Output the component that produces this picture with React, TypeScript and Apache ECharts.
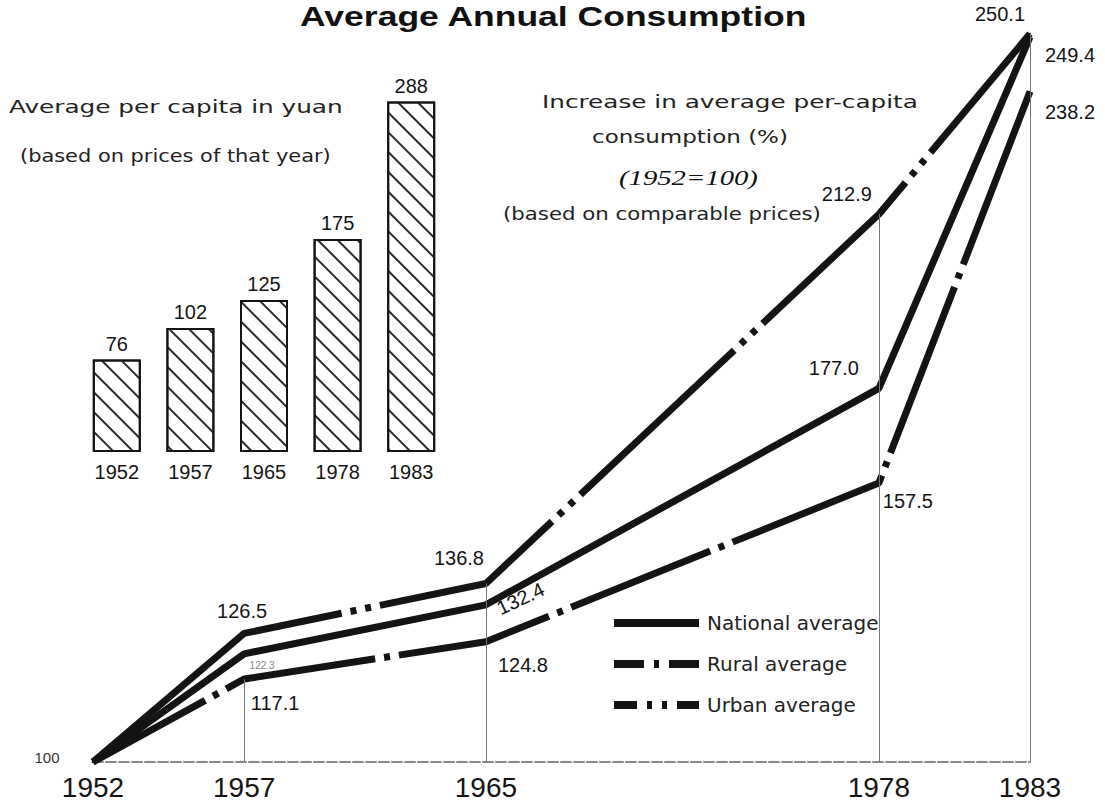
import React, { useEffect, useRef } from 'react';
import * as echarts from 'echarts';

// ---------- data ----------
const years = [1952, 1957, 1965, 1978, 1983];
const barYears = ['1952', '1957', '1965', '1978', '1983'];
const perCapitaYuan = [76, 102, 125, 175, 288];
const nationalIdx = [100, 122.3, 132.4, 177.0, 249.4];
const ruralIdx = [100, 117.1, 124.8, 157.5, 238.2];
const urbanIdx = [100, 126.5, 136.8, 212.9, 250.1];
const seriesNames = ['National average', 'Rural average', 'Urban average'];
const titleText = 'Average Annual Consumption';
const leftNote1 = 'Average per capita in yuan';
const leftNote2 = '(based on prices of that year)';
const rightNote1 = 'Increase in average per-capita';
const rightNote2 = 'consumption (%)';
const rightNote3 = '(1952=100)';
const rightNote4 = '(based on comparable prices)';

const COND = '"Liberation Sans", Arial, sans-serif';
const SANS = '"DejaVu Sans", sans-serif';
const INK = '#141414';

// dash patterns (style only): long dashes broken by dot groups
const urbanDash = [298, 9, 6, 9, 6, 9, 199, 9, 6, 9, 6, 9, 211, 9, 6, 9, 6, 9, 201, 9, 6, 9, 6, 9, 500];
const ruralDash = [128, 9, 6, 9, 153, 9, 6, 9, 156, 9, 6, 9, 150, 9, 6, 9, 166, 9, 6, 9, 178, 9, 6, 9, 500];

let measureCtx: CanvasRenderingContext2D | null = null;
function measure(text: string, font: string): number {
  if (!measureCtx) measureCtx = document.createElement('canvas').getContext('2d');
  if (!measureCtx) return 0;
  measureCtx.font = font;
  return measureCtx.measureText(text).width;
}

function fitText(
  text: string, x: number, y: number, width: number, size: number, family: string,
  opts: { weight?: string; style?: string; fill?: string } = {}
) {
  const weight = opts.weight || 'normal';
  const style = opts.style || 'normal';
  const w = measure(text, `${style} ${weight} ${size}px ${family}`);
  return {
    type: 'text', x, y, scaleX: w > 0 ? width / w : 1, silent: true,
    style: {
      text, fontSize: size, fontFamily: family, fontWeight: weight, fontStyle: style,
      fill: opts.fill || '#222', align: 'left', verticalAlign: 'middle',
    },
  };
}

function labelAt(off: number[] | null, extra: any = {}) {
  if (!off) return { show: false };
  return {
    show: true, position: 'inside', offset: off, fontSize: 20, fontFamily: COND, color: INK,
    formatter: (p: any) => Number(p.value[1]).toFixed(1), ...extra,
  };
}

function buildData(vals: number[], offs: (number[] | null)[], extras: any[] = []) {
  return vals.map((v, i) => ({ value: [years[i], v], label: labelAt(offs[i], extras[i] || {}) }));
}

export default function App() {
  const ref = useRef<HTMLDivElement>(null);
  useEffect(() => {
    if (!ref.current) return;
    const chart = echarts.init(ref.current, undefined, { renderer: 'svg' });

    const urbanOffs = [null, [-2, -22], [-27, -25], [-32, -20], [-30, -20]];
    const nationalOffs = [[-46, -5], [18, 12], [34, 9], [-45, -20], [40, 18]];
    const ruralOffs = [null, [31, 24], [37, 23], [29, 18], [40, 20]];
    const nationalExtras = [
      { formatter: () => '100', fontSize: 15, color: '#333' },
      { fontSize: 10, color: '#888' },
      { rotate: 25 },
      {},
      {},
    ];

    const dropLines = [
      [{ coord: [years[1], ruralIdx[1]] }, { coord: [years[1], 100] }],
      [{ coord: [years[2], urbanIdx[2]] }, { coord: [years[2], 100] }],
      [{ coord: [years[3], urbanIdx[3]] }, { coord: [years[3], 100] }],
      [{ coord: [years[4], urbanIdx[4]] }, { coord: [years[4], 100] }],
    ];

    const lineCommon = {
      type: 'line', xAxisIndex: 0, yAxisIndex: 0, symbol: 'circle', symbolSize: 2,
      itemStyle: { color: INK }, z: 3,
    };

    const option: any = {
      animation: false,
      backgroundColor: '#ffffff',
      grid: [
        { left: 93, right: 75, top: 10, bottom: 45 },
        { left: 80, top: 87, width: 368, height: 365 },
      ],
      xAxis: [
        {
          type: 'value', gridIndex: 0, min: 1952, max: 1983,
          axisLine: { show: true, lineStyle: { color: '#8a8a8a', width: 2, type: [10, 3] } },
          axisTick: { show: false },
          splitLine: { show: false },
          axisLabel: {
            customValues: years, fontSize: 28, fontFamily: COND, color: INK, margin: 11,
            formatter: (v: number) => String(v),
          },
        },
        {
          type: 'category', gridIndex: 1, data: barYears,
          axisLine: { show: false }, axisTick: { show: false },
          axisLabel: { fontSize: 20, fontFamily: COND, color: INK, margin: 10 },
        },
      ],
      yAxis: [
        { type: 'value', gridIndex: 0, min: 100, max: 255, show: false },
        { type: 'value', gridIndex: 1, min: 0, max: 300, show: false },
      ],
      legend: {
        orient: 'vertical', left: 605, top: 608, itemWidth: 85, itemHeight: 8, itemGap: 21,
        selectedMode: false,
        textStyle: { fontSize: 20, fontFamily: SANS, color: '#222', padding: [0, 0, 0, 3] },
        itemStyle: { opacity: 0 },
        lineStyle: { width: 8, color: INK },
        data: [
          { name: seriesNames[0], lineStyle: { type: 'solid' } },
          { name: seriesNames[1], lineStyle: { type: [30, 10, 5, 10, 30, 20] } },
          { name: seriesNames[2], lineStyle: { type: [23, 10, 5, 10, 5, 10, 22, 20] } },
        ],
      },
      graphic: [
        fitText(titleText, 300, 16, 508, 28, '"Liberation Sans", Arial, sans-serif', { weight: 'bold', fill: '#111' }),
        fitText(leftNote1, 9, 107, 334, 18, SANS),
        fitText(leftNote2, 20, 156, 311, 17, SANS),
        fitText(rightNote1, 542, 102, 376, 18, SANS),
        fitText(rightNote2, 592, 137, 196, 18, SANS),
        fitText(rightNote3, 619, 178, 139, 21, '"Liberation Serif", "Times New Roman", serif', { style: 'italic', fill: '#111' }),
        fitText(rightNote4, 503, 214, 318, 17, SANS),
      ],
      series: [
        {
          ...lineCommon,
          name: seriesNames[2],
          data: buildData(urbanIdx, urbanOffs),
          lineStyle: { color: INK, width: 7, type: urbanDash, cap: 'butt' },
          markLine: {
            silent: true, symbol: ['none', 'none'], label: { show: false },
            lineStyle: { color: '#777', width: 1, type: 'solid' },
            data: dropLines,
          },
        },
        {
          ...lineCommon,
          name: seriesNames[0],
          data: buildData(nationalIdx, nationalOffs, nationalExtras),
          lineStyle: { color: INK, width: 7, type: 'solid' },
        },
        {
          ...lineCommon,
          name: seriesNames[1],
          data: buildData(ruralIdx, ruralOffs),
          lineStyle: { color: INK, width: 7, type: ruralDash, cap: 'butt' },
        },
        {
          type: 'bar', name: 'Average per capita in yuan', xAxisIndex: 1, yAxisIndex: 1,
          data: perCapitaYuan, barWidth: 48,
          itemStyle: {
            color: '#ffffff', borderColor: INK, borderWidth: 2,
            decal: {
              symbol: 'rect', symbolSize: 1, color: '#2a2a2a',
              dashArrayX: [1, 0], dashArrayY: [1.6, 11.4], rotation: Math.PI / 4,
            },
          },
          label: { show: true, position: 'top', distance: 6, fontSize: 20, fontFamily: COND, color: INK },
        },
      ],
    };

    chart.setOption(option);
    return () => chart.dispose();
  }, []);

  return (
    <div
      ref={ref}
      style={{ position: 'fixed', left: 0, top: 0, width: 1105, height: 807, background: '#fff' }}
    />
  );
}
